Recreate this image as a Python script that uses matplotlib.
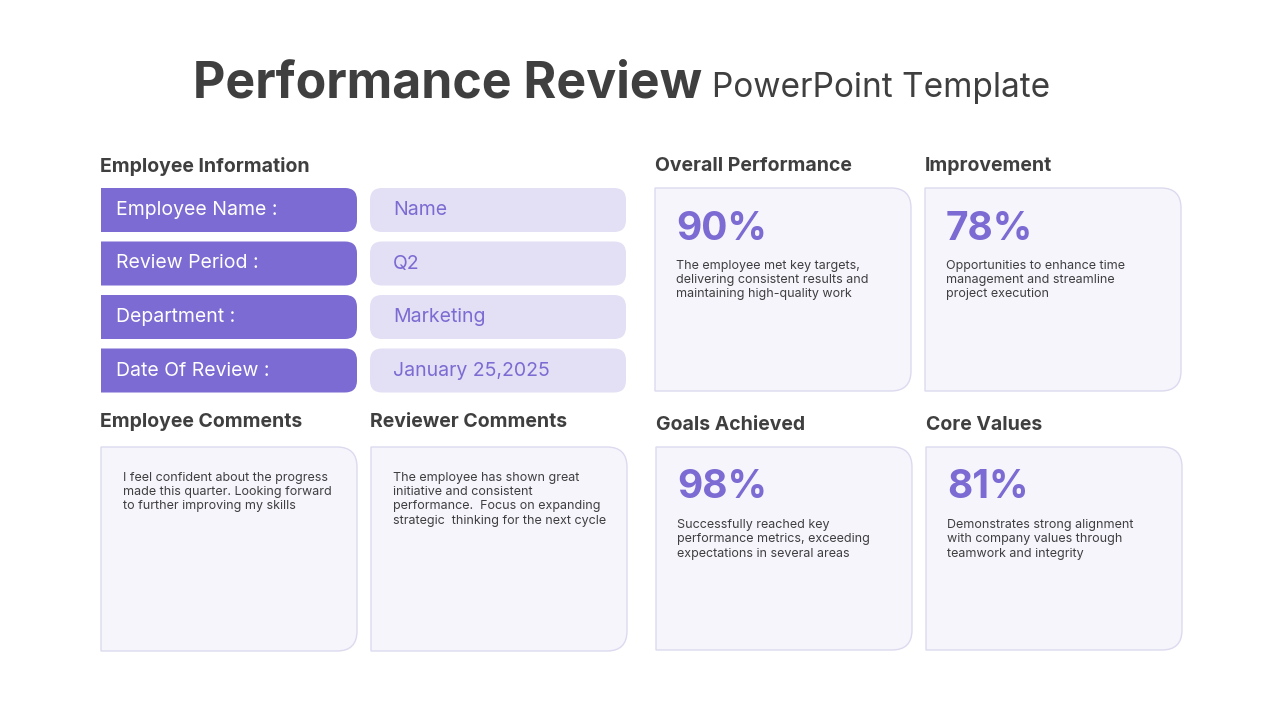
import matplotlib
matplotlib.use("Agg")
import matplotlib.pyplot as plt
from matplotlib.path import Path
from matplotlib.patches import PathPatch
import numpy as np

plt.rcParams["font.family"] = "Inter"

info_labels = ["Employee Name :", "Review Period :", "Department :", "Date Of Review :"]
info_values = ["Name", "Q2", "Marketing", "January 25,2025"]
comment_titles = ["Employee Comments", "Reviewer Comments"]
comment_texts = ["I feel confident about the progress\nmade this quarter. Looking forward\nto further improving my skills",
                 "The employee has shown great\ninitiative and consistent\nperformance.  Focus on expanding\nstrategic  thinking for the next cycle"]
metric_titles = ["Overall Performance", "Improvement", "Goals Achieved", "Core Values"]
metric_values = [90, 78, 98, 81]
metric_texts = ["The employee met key targets,\ndelivering consistent results and\nmaintaining high-quality work",
                "Opportunities to enhance time\nmanagement and streamline\nproject execution",
                "Successfully reached key\nperformance metrics, exceeding\nexpectations in several areas",
                "Demonstrates strong alignment\nwith company values through\nteamwork and integrity"]

PURPLE = "#7B6BD2"; LIGHT = "#E3DFF5"; CARD = "#F6F5FC"; BORDER = "#DCDAEE"; DARK = "#3F3F3F"

fig = plt.figure(figsize=(12.8, 7.2), dpi=100)
ax = fig.add_axes([0, 0, 1, 1])
ax.set_xlim(0, 1280); ax.set_ylim(720, 0); ax.axis("off")

def rbox(x, y, w, h, r, fc, ec="none", lw=1.0):
    # r = (tl, tr, br, bl) in pixel coords with y downward
    tl, tr, br, bl = r
    verts = []; codes = []
    verts += [(x + tl, y)]; codes += [Path.MOVETO]
    verts += [(x + w - tr, y)]; codes += [Path.LINETO]
    if tr: verts += [(x + w, y), (x + w, y + tr)]; codes += [Path.CURVE3] * 2
    verts += [(x + w, y + h - br)]; codes += [Path.LINETO]
    if br: verts += [(x + w, y + h), (x + w - br, y + h)]; codes += [Path.CURVE3] * 2
    verts += [(x + bl, y + h)]; codes += [Path.LINETO]
    if bl: verts += [(x, y + h), (x, y + h - bl)]; codes += [Path.CURVE3] * 2
    verts += [(x, y + tl)]; codes += [Path.LINETO]
    if tl: verts += [(x, y), (x + tl, y)]; codes += [Path.CURVE3] * 2
    verts += [(x + tl, y)]; codes += [Path.CLOSEPOLY]
    ax.add_patch(PathPatch(Path(verts, codes), fc=fc, ec=ec, lw=lw))

# title
ax.text(702, 84, "Performance Review", ha="right", va="center", fontsize=36, fontweight="bold", color=DARK)
ax.text(712, 88, "PowerPoint Template", ha="left", va="center", fontsize=24, color=DARK)

ax.text(100, 166, "Employee Information", fontsize=14, fontweight="bold", color=DARK, va="center")
for i, (lab, val) in enumerate(zip(info_labels, info_values)):
    y = 188 + i * 53.5
    rbox(101, y, 256, 44, (0, 12, 12, 0), PURPLE)
    ax.text(116, y + 22, lab, fontsize=14, color="white", va="center")
    rbox(370, y, 256, 44, (12, 12, 12, 12), LIGHT)
    ax.text(393, y + 22, val, fontsize=14, color=PURPLE, va="center")

for i, (t, txt) in enumerate(zip(comment_titles, comment_texts)):
    x = 101 + i * 270
    ax.text(x - 1, 422, t, fontsize=14, fontweight="bold", color=DARK, va="center")
    rbox(x, 447, 256, 204, (0, 20, 20, 0), CARD, BORDER)
    ax.text(x + 22, 472, txt, fontsize=9, color=DARK, va="top", linespacing=1.25)

pos = [(655, 188), (925, 188), (656, 447), (926, 447)]
for (x, y), t, v, txt in zip(pos, metric_titles, metric_values, metric_texts):
    ax.text(x, y - 22, t, fontsize=14, fontweight="bold", color=DARK, va="center")
    rbox(x, y, 256, 203, (0, 20, 20, 0), CARD, BORDER)
    ax.text(x + 21, y + 41, f"{v}%", fontsize=28, fontweight="bold", color=PURPLE, va="center")
    ax.text(x + 21, y + 72, txt, fontsize=9, color=DARK, va="top", linespacing=1.25)

fig.savefig("out.png", dpi=100, facecolor="white")
